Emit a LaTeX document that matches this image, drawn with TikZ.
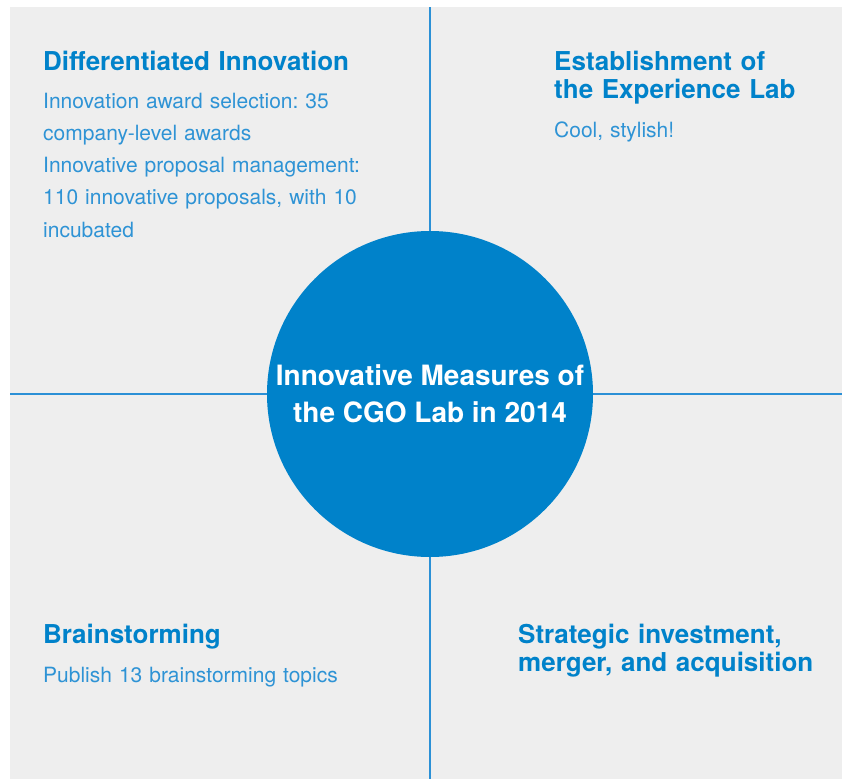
\documentclass[tikz,border=0pt]{standalone}
\usepackage{fontspec}
\setmainfont{TeX Gyre Heros}
\usetikzlibrary{positioning}
\frenchspacing

\definecolor{labgray}{HTML}{EEEEEE}
\definecolor{headblue}{HTML}{0082CA}
\definecolor{bodyblue}{HTML}{2E93D5}
\definecolor{lineblue}{HTML}{2B90D6}

\tikzset{
	heading/.style={anchor=base west, inner sep=0pt, align=left, text width=380pt, text=headblue, font=\bfseries\fontsize{26}{28}\selectfont},
	bodytext/.style={anchor=base west, inner sep=0pt, align=left, text width=380pt, text=bodyblue, font=\fontsize{21}{32.3}\selectfont},
	divider/.style={draw=lineblue, line width=2pt}
}

\begin{document}
\begin{tikzpicture}[x=1pt, y=-1pt]
	\useasboundingbox (0,0) rectangle (842,779);
	\fill[labgray] (10,7) rectangle (842,779);

	%quadrant lines
	\coordinate (top) at (430,7);
	\coordinate (bottom) at (430,779);
	\coordinate (left) at (10,394);
	\coordinate (right) at (842,394);
	\draw[divider] (top) -- (bottom);
	\draw[divider] (left) -- (right);

	%centre
	\node [circle, fill=headblue, minimum size=326pt, inner sep=0pt, text=white, align=center,
		font=\bfseries\fontsize{28}{37}\selectfont] (lab) at (430,394) {Innovative Measures of\\the CGO Lab in 2014};

	%top left
	\node [heading] (diff) at (43,70) {Differentiated Innovation};
	\node [bodytext] (difftext) at (43,108) {Innovation award selection: 35\\company-level awards\\Innovative proposal management:\\110 innovative proposals, with 10\\incubated};

	%top right
	\node [heading] (exp) at (554,70) {Establishment of\\the Experience Lab};
	\node [bodytext] (exptext) at (554,137) {Cool, stylish!};

	%bottom left
	\node [heading] (brain) at (43,643) {Brainstorming};
	\node [bodytext] (braintext) at (43,682) {Publish 13 brainstorming topics};

	%bottom right
	\node [heading] (invest) at (518,643) {Strategic investment,\\merger, and acquisition};
\end{tikzpicture}
\end{document}
